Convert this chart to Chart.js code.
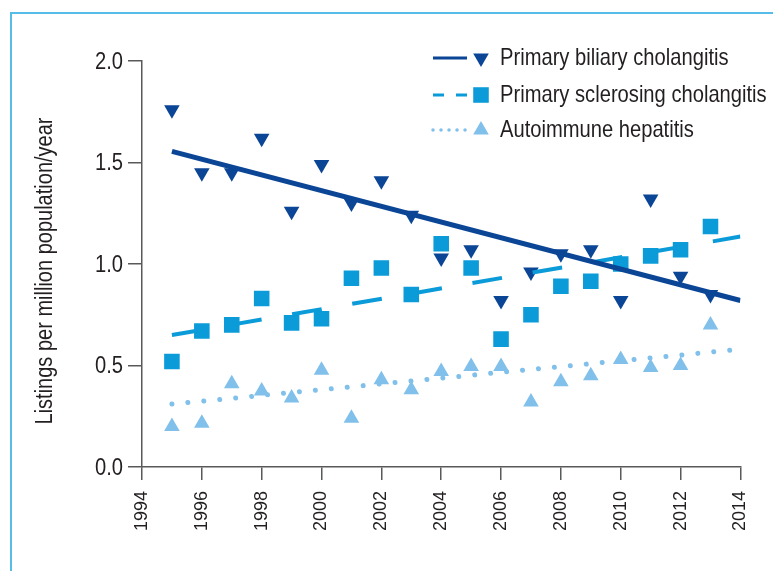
<!DOCTYPE html>
<html>
<head>
<meta charset="utf-8">
<script src="https://cdn.jsdelivr.net/npm/chart.js@4"></script>
<style>
  html, body { margin: 0; padding: 0; background: #fff; overflow: hidden; }
  #wrap { position: relative; width: 773px; height: 571px; overflow: hidden; }
  #frame { position: absolute; left: 10px; top: 12px; width: 800px; height: 600px;
           border-left: 2px solid #56bde9; border-top: 2px solid #56bde9; }
  canvas { position: absolute; left: 0; top: 0; }
</style>
</head>
<body>
<div id="wrap">
  <div id="frame"></div>
  <canvas id="myChart" width="773" height="571"></canvas>
</div>
<script>
'use strict';

let years = [1995,1996,1997,1998,1999,2000,2001,2002,2003,2004,2005,2006,2007,2008,2009,2010,2011,2012,2013];
let pbc = [1.76,1.45,1.45,1.62,1.26,1.49,1.30,1.41,1.24,1.03,1.07,0.82,0.96,1.05,1.07,0.82,1.32,0.94,0.85];
let psc = [0.52,0.67,0.70,0.83,0.71,0.73,0.93,0.98,0.85,1.10,0.98,0.63,0.75,0.89,0.915,1.00,1.04,1.07,1.185];
let aih = [0.20,0.215,0.41,0.375,0.34,0.477,0.24,0.43,0.38,0.47,0.495,0.495,0.32,0.42,0.45,0.53,0.49,0.50,0.70];

// trend lines, start and end values
let trendYears = [1995, 2014];
let pbcTrend = [1.555, 0.82];
let pscTrend = [0.65, 1.135];
let aihTrend = [0.31, 0.58];

let names = ['Primary biliary cholangitis','Primary sclerosing cholangitis','Autoimmune hepatitis'];
let yTitle = 'Listings per million population/year';
let yTicks = [0, 0.5, 1.0, 1.5, 2.0];
let xTicks = [1994,1996,1998,2000,2002,2004,2006,2008,2010,2012,2014];

let colPBC = '#0b4595';
let colPSC = '#0a9bd8';
let colAIH = '#80c0ea';
let axisCol = '#58595b';
let textCol = '#231f20';

// no condensed face installed, so squeeze Liberation Sans by hand
function narrowText(ctx, text, x, y, size, squeeze, align, angle){
  ctx.save();
  ctx.translate(x, y);
  if (angle) ctx.rotate(angle);
  ctx.scale(squeeze, 1);
  ctx.font = size + 'px "Liberation Sans", Arial, sans-serif';
  ctx.fillStyle = textCol;
  ctx.textAlign = align;
  ctx.textBaseline = 'middle';
  ctx.fillText(text, 0, 0);
  ctx.restore();
}

function pts(xs, ys){
  let out = [];
  for (let i=0;i<xs.length;i++){
    out.push({x: xs[i], y: ys[i]});
  }
  return out;
}

let textPlugin = {
  id: 'narrowText',
  afterDraw(chart){
    let ctx = chart.ctx;
    let yScale = chart.scales.y;
    // y tick labels
    for (let i=0;i<yTicks.length;i++){
      narrowText(ctx, yTicks[i].toFixed(1), 123, yScale.getPixelForValue(yTicks[i]) + 1, 24, 0.84, 'right');
    }
    // y title
    narrowText(ctx, yTitle, 46, 271, 23, 0.87, 'center', -Math.PI / 2);

    // legend
    let rows = [
      {y: 58, col: colPBC, dash: [], width: 3, style: 'triangle', rot: 180, r: 9},
      {y: 95, col: colPSC, dash: [11, 12], width: 3, style: 'rect', rot: 0, r: 11},
      {y: 130, col: colAIH, dash: [0.01, 8], width: 3.5, style: 'triangle', rot: 0, r: 9}
    ];
    ctx.save();
    for (let i=0;i<rows.length;i++){
      let r = rows[i];
      ctx.strokeStyle = r.col;
      ctx.lineWidth = r.width;
      ctx.lineCap = r.dash.length && r.dash[0] < 1 ? 'round' : 'butt';
      ctx.setLineDash(r.dash);
      ctx.beginPath();
      ctx.moveTo(433, r.y);
      ctx.lineTo(467, r.y);
      ctx.stroke();
      ctx.setLineDash([]);
      ctx.fillStyle = r.col;
      Chart.helpers.drawPoint(ctx, {pointStyle: r.style, rotation: r.rot, radius: r.r, borderWidth: 0}, 481, r.y);
      narrowText(ctx, names[i], 500, r.y, 24, 0.84, 'left');
    }
    ctx.restore();
  }
};

let ctx = document.getElementById('myChart').getContext('2d');
let myChart = new Chart(ctx, {
  type: 'scatter',
  data: {
    datasets: [
      {
        label: names[0] + ' trend', data: pts(trendYears, pbcTrend), showLine: true,
        borderColor: colPBC, borderWidth: 5, pointRadius: 0, order: 1
      },
      {
        label: names[1] + ' trend', data: pts(trendYears, pscTrend), showLine: true,
        borderColor: colPSC, borderWidth: 4, borderDash: [30, 31], pointRadius: 0, order: 1
      },
      {
        label: names[2] + ' trend', data: pts(trendYears, aihTrend), showLine: true,
        borderColor: colAIH, borderWidth: 5, borderDash: [0.01, 16], borderCapStyle: 'round',
        pointRadius: 0, order: 1
      },
      {
        label: names[0], data: pts(years, pbc), showLine: false,
        pointStyle: 'triangle', rotation: 180, pointRadius: 9, pointBorderWidth: 0,
        backgroundColor: colPBC, borderColor: colPBC, order: 2
      },
      {
        label: names[1], data: pts(years, psc), showLine: false,
        pointStyle: 'rect', pointRadius: 11, pointBorderWidth: 0,
        backgroundColor: colPSC, borderColor: colPSC, order: 3
      },
      {
        label: names[2], data: pts(years, aih), showLine: false,
        pointStyle: 'triangle', pointRadius: 9, pointBorderWidth: 0,
        backgroundColor: colAIH, borderColor: colAIH, order: 4
      }
    ]
  },
  options: {
    responsive: false,
    animation: false,
    layout: { padding: { left: 0, top: 61, right: 21, bottom: 0 } },
    plugins: { legend: { display: false }, tooltip: { enabled: false } },
    scales: {
      x: {
        type: 'linear', min: 1994, max: 2014,
        afterBuildTicks: function(scale){ scale.ticks = xTicks.map(v => ({value: v})); },
        afterFit: function(scale){ scale.height = 104; },
        grid: { display: true, drawOnChartArea: false, drawTicks: true, tickLength: 13, color: axisCol, lineWidth: 1.5 },
        border: { display: true, color: axisCol, width: 1.5 },
        ticks: {
          minRotation: 90, maxRotation: 90, padding: 11, color: textCol,
          font: { family: '"Liberation Sans", Arial, sans-serif', size: 18 },
          callback: v => String(v)
        }
      },
      y: {
        type: 'linear', min: 0, max: 2,
        afterBuildTicks: function(scale){ scale.ticks = yTicks.map(v => ({value: v})); },
        afterFit: function(scale){ scale.width = 142; },
        grid: { display: true, drawOnChartArea: false, drawTicks: true, tickLength: 14, color: axisCol, lineWidth: 1.5 },
        border: { display: true, color: axisCol, width: 1.5 },
        ticks: { display: false }
      }
    }
  },
  plugins: [textPlugin]
});
</script>
</body>
</html>
